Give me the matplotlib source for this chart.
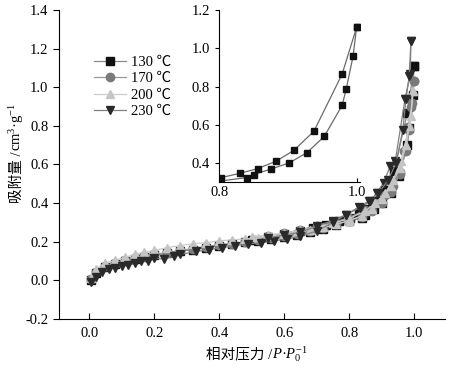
import matplotlib
matplotlib.use("Agg")
import matplotlib.pyplot as plt
from matplotlib.ticker import FormatStrFormatter

plt.rcParams["font.family"] = ["Liberation Serif", "Noto Sans CJK SC", "DejaVu Serif"]
plt.rcParams["mathtext.fontset"] = "custom"
plt.rcParams["mathtext.rm"] = "Liberation Serif"
plt.rcParams["mathtext.it"] = "Liberation Serif:italic"
plt.rcParams["axes.unicode_minus"] = True

# 130 C
x130_ads = [0.005, 0.02, 0.05, 0.08, 0.11, 0.14, 0.17, 0.20, 0.24, 0.28, 0.32, 0.36, 0.40, 0.44,
            0.48, 0.52, 0.56, 0.60, 0.64, 0.68, 0.72, 0.76, 0.80, 0.84, 0.85, 0.875, 0.902, 0.928,
            0.953, 0.979, 0.985, 0.995, 1.0]
y130_ads = [0.0, 0.04, 0.07, 0.085, 0.10, 0.11, 0.12, 0.13, 0.14, 0.15, 0.16, 0.17, 0.18, 0.19,
            0.20, 0.205, 0.215, 0.225, 0.235, 0.25, 0.265, 0.285, 0.305, 0.324, 0.34, 0.368, 0.401,
            0.455, 0.54, 0.702, 0.789, 0.961, 1.11]
x130_des = [1.0, 0.979, 0.938, 0.909, 0.883, 0.856, 0.831, 0.802, 0.77, 0.73, 0.69, 0.65, 0.60, 0.55, 0.50]
y130_des = [1.11, 0.866, 0.567, 0.467, 0.41, 0.371, 0.347, 0.323, 0.305, 0.285, 0.27, 0.255, 0.24, 0.225, 0.21]

# 170 C
x170_ads = [0.005, 0.02, 0.05, 0.08, 0.11, 0.14, 0.17, 0.20, 0.24, 0.28, 0.32, 0.36, 0.40, 0.44,
            0.48, 0.52, 0.56, 0.60, 0.64, 0.68, 0.72, 0.76, 0.80, 0.84, 0.87, 0.90, 0.93, 0.955,
            0.975, 0.985, 0.993, 0.998]
y170_ads = [0.005, 0.045, 0.075, 0.09, 0.105, 0.115, 0.125, 0.135, 0.145, 0.155, 0.165, 0.175, 0.185,
            0.19, 0.20, 0.21, 0.22, 0.23, 0.24, 0.255, 0.27, 0.29, 0.31, 0.33, 0.36, 0.40, 0.46, 0.55,
            0.67, 0.78, 0.92, 1.03]
x170_des = [0.998, 0.99, 0.982, 0.97, 0.955, 0.935, 0.91, 0.88, 0.85, 0.80, 0.75, 0.70, 0.65, 0.60, 0.55]
y170_des = [1.03, 0.90, 0.795, 0.67, 0.56, 0.49, 0.44, 0.40, 0.365, 0.325, 0.30, 0.28, 0.26, 0.245, 0.23]

# 200 C
x200_ads = [0.005, 0.02, 0.05, 0.08, 0.11, 0.14, 0.17, 0.20, 0.24, 0.28, 0.32, 0.36, 0.40, 0.44,
            0.48, 0.52, 0.56, 0.60, 0.64, 0.68, 0.72, 0.76, 0.80, 0.84, 0.87, 0.90, 0.93, 0.955,
            0.975, 0.99, 0.997]
y200_ads = [0.01, 0.06, 0.09, 0.105, 0.12, 0.135, 0.145, 0.155, 0.17, 0.18, 0.19, 0.195, 0.205, 0.21,
            0.215, 0.22, 0.23, 0.24, 0.25, 0.26, 0.275, 0.29, 0.31, 0.335, 0.37, 0.42, 0.49, 0.58,
            0.70, 0.85, 0.98]
x200_des = [0.997, 0.985, 0.96, 0.935, 0.91, 0.88, 0.85, 0.80, 0.75, 0.70, 0.65, 0.60, 0.55, 0.50]
y200_des = [0.98, 0.80, 0.62, 0.52, 0.45, 0.40, 0.36, 0.32, 0.295, 0.275, 0.26, 0.245, 0.235, 0.225]

# 230 C
x230_ads = [0.005, 0.02, 0.04, 0.06, 0.08, 0.10, 0.12, 0.14, 0.16, 0.18, 0.20, 0.23, 0.26, 0.28,
            0.33, 0.37, 0.41, 0.45, 0.49, 0.53, 0.57, 0.61, 0.65, 0.70, 0.75, 0.79, 0.834, 0.865,
            0.885, 0.906, 0.926, 0.942, 0.972, 0.988, 0.99]
y230_ads = [-0.01, 0.02, 0.045, 0.057, 0.066, 0.074, 0.079, 0.088, 0.10, 0.10, 0.115, 0.11, 0.125,
            0.135, 0.15, 0.16, 0.17, 0.18, 0.19, 0.195, 0.205, 0.215, 0.23, 0.255, 0.30, 0.34, 0.377,
            0.41, 0.454, 0.506, 0.59, 0.62, 0.94, 1.07, 1.24]
x230_des = [0.99, 0.985, 0.975, 0.965, 0.945, 0.92, 0.89, 0.86, 0.83, 0.79, 0.75, 0.70, 0.65, 0.60, 0.55]
y230_des = [1.24, 1.06, 0.94, 0.78, 0.61, 0.52, 0.45, 0.41, 0.38, 0.34, 0.31, 0.28, 0.25, 0.235, 0.22]

series = [
    ("130 ℃", x130_ads, y130_ads, x130_des, y130_des, "s", "#111111"),
    ("170 ℃", x170_ads, y170_ads, x170_des, y170_des, "o", "#7a7a7a"),
    ("200 ℃", x200_ads, y200_ads, x200_des, y200_des, "^", "#c4c4c4"),
    ("230 ℃", x230_ads, y230_ads, x230_des, y230_des, "v", "#2a2a2a"),
]
line_colors = ["#8a8a8a", "#999999", "#cccccc", "#808080"]

fig = plt.figure(figsize=(4.5, 3.68), dpi=100)
ax = fig.add_axes([0.131, 0.133, 0.858, 0.840])

for (label, xa, ya, xd, yd, m, c), lc in zip(series, line_colors):
    ax.plot(xa, ya, marker=m, color=lc, mfc=c, mec=c, ms=6, lw=0.9, label=label)
    ax.plot(xd, yd, marker=m, color=lc, mfc=c, mec=c, ms=6, lw=0.9)

ax.set_xlim(-0.093, 1.095)
ax.set_ylim(-0.2, 1.4)
ax.set_xticks([0.0, 0.2, 0.4, 0.6, 0.8, 1.0])
ax.set_yticks([-0.2, 0.0, 0.2, 0.4, 0.6, 0.8, 1.0, 1.2, 1.4])
ax.xaxis.set_major_formatter(FormatStrFormatter("%.1f"))
ax.yaxis.set_major_formatter(FormatStrFormatter("%.1f"))
ax.spines["top"].set_visible(False)
ax.spines["right"].set_visible(False)
ax.tick_params(axis="x", direction="in", length=4, labelsize=10.5, pad=6)
ax.tick_params(axis="y", direction="out", length=4, labelsize=10.5)

# axis labels: CJK part and math part drawn as two pieces sharing a baseline
fig.text(0.604, 0.027, "相对压力 /", fontsize=10.5, ha="right", va="baseline")
fig.text(0.604, 0.027, "$P$·$P_0^{-1}$", fontsize=10.5, ha="left", va="baseline")
fig.text(0.047, 0.59, "吸附量 /", fontsize=10.5, ha="right", va="baseline",
         rotation=90, rotation_mode="anchor")
fig.text(0.047, 0.59, "cm$^3$·g$^{-1}$", fontsize=10.5, ha="left", va="baseline",
         rotation=90, rotation_mode="anchor")

ax.legend(loc="upper left", bbox_to_anchor=(0.065, 0.885), frameon=False, fontsize=10.5,
          handlelength=2.2, labelspacing=0.22, handletextpad=0.3, borderpad=0.2)

# inset: 130 C hysteresis loop
ins = fig.add_axes([0.487, 0.505, 0.313, 0.467])
ins.plot(x130_ads, y130_ads, marker="s", color="#6a6a6a", mfc="#111111", mec="#111111", ms=4, lw=0.9)
ins.plot(x130_des, y130_des, marker="s", color="#6a6a6a", mfc="#111111", mec="#111111", ms=4, lw=0.9)
ins.set_xlim(0.8, 1.005)
ins.set_ylim(0.3, 1.2)
ins.set_xticks([0.8, 1.0])
ins.set_yticks([0.4, 0.6, 0.8, 1.0, 1.2])
ins.xaxis.set_major_formatter(FormatStrFormatter("%.1f"))
ins.yaxis.set_major_formatter(FormatStrFormatter("%.1f"))
ins.spines["top"].set_visible(False)
ins.spines["right"].set_visible(False)
ins.patch.set_alpha(0)
ins.tick_params(axis="x", direction="in", length=3, labelsize=10.5, pad=3)
ins.tick_params(axis="y", direction="out", length=3, labelsize=10.5)

fig.savefig("out.png", dpi=100)
